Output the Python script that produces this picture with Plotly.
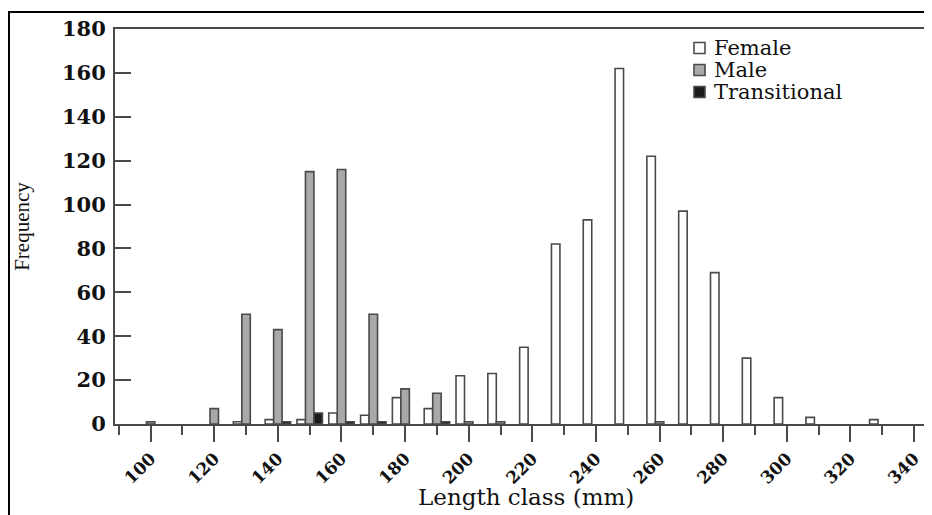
import plotly.graph_objects as go

length_class = [100, 110, 120, 130, 140, 150, 160, 170, 180, 190, 200, 210, 220,
                230, 240, 250, 260, 270, 280, 290, 300, 310, 320, 330, 340]
female = [0, 0, 0, 1, 2, 2, 5, 4, 12, 7, 22, 23, 35,
          82, 93, 162, 122, 97, 69, 30, 12, 3, 0, 2, 0]
male = [1, 0, 7, 50, 43, 115, 116, 50, 16, 14, 1, 1, 0,
        0, 0, 0, 1, 0, 0, 0, 0, 0, 0, 0, 0]
transitional = [0, 0, 0, 0, 1, 5, 1, 1, 0, 1, 0, 0, 0,
                0, 0, 0, 0, 0, 0, 0, 0, 0, 0, 0, 0]
series_names = ["Female", "Male", "Transitional"]
y_ticks = [0, 20, 40, 60, 80, 100, 120, 140, 160, 180]
x_ticks = [100, 120, 140, 160, 180, 200, 220, 240, 260, 280, 300, 320, 340]
x_title = "Length class (mm)"
y_title = "Frequency"

fills = ["#ffffff", "#a9a9a9", "#1c1c1c"]
outline = "#4a4a4a"
serif = "DejaVu Serif"

OFF = 8  # default page body margin
W, H = 932 - OFF, 515 - OFF
L, R, T, B = 107, 2, 21, 91
pw, ph = W - L - R, H - T - B


def px_x(page_x):
    return (page_x - OFF - L) / pw


def px_y(page_y):
    return (H - B - (page_y - OFF)) / ph


fig = go.Figure()
for name, vals, col in zip(series_names, [female, male, transitional], fills):
    fig.add_trace(go.Bar(x=length_class, y=[v if v else None for v in vals], name=name,
                         marker=dict(color=col, line=dict(color=outline, width=1.6))))

# legend drawn as squares + text to match the tight row spacing
leg_y = [48, 70, 92]
for name, col, yy in zip(series_names, fills, leg_y):
    fig.add_shape(type="rect", xref="paper", yref="paper",
                  x0=px_x(694), x1=px_x(705), y0=px_y(yy + 5.5), y1=px_y(yy - 5.5),
                  fillcolor=col, line=dict(color=outline, width=1.6))
    fig.add_annotation(text=name, xref="paper", yref="paper",
                       x=px_x(712), y=px_y(yy), xanchor="left", yanchor="middle",
                       showarrow=False, font=dict(family=serif, size=21, color="#111"))

# x-axis title
fig.add_annotation(text=x_title, xref="paper", yref="paper",
                   x=px_x(526), y=px_y(497), xanchor="center", yanchor="middle",
                   showarrow=False, font=dict(family=serif, size=23, color="#111"))

# outer image border
fig.add_shape(type="rect", xref="paper", yref="paper",
              x0=px_x(9), x1=px_x(931), y0=px_y(540), y1=px_y(12),
              line=dict(color="#000", width=2), fillcolor="rgba(0,0,0,0)")

fig.update_layout(
    width=W, height=H,
    margin=dict(l=L, r=R, t=T, b=B),
    paper_bgcolor="white", plot_bgcolor="white",
    barmode="group", bargap=0.2, bargroupgap=0,
    showlegend=False,
    font=dict(family=serif, color="#111"),
)
fig.update_xaxes(
    range=[88.8, 345.0], tickmode="array", tickvals=x_ticks,
    ticktext=[str(v) for v in x_ticks], tickangle=-45,
    ticks="outside", ticklen=16, tickwidth=1.6, tickcolor=outline,
    minor=dict(dtick=10, tick0=100, ticks="outside", ticklen=9, tickwidth=1.6, tickcolor=outline),
    showline=True, linecolor=outline, linewidth=2, mirror=True,
    showgrid=False, zeroline=False,
    tickfont=dict(family=serif, size=17, color="#111", weight="bold"),
)
fig.update_yaxes(
    range=[0, 180], tickmode="array", tickvals=y_ticks,
    ticks="inside", ticklen=16, tickwidth=1.6, tickcolor=outline,
    showline=True, linecolor=outline, linewidth=2, mirror=False,
    showgrid=False, zeroline=False, ticklabelstandoff=3,
    tickfont=dict(family=serif, size=21, color="#111", weight="bold"),
    title=dict(text=y_title, standoff=27,
               font=dict(family="Liberation Serif", size=21, color="#111")),
)

fig.write_html("out.html")
